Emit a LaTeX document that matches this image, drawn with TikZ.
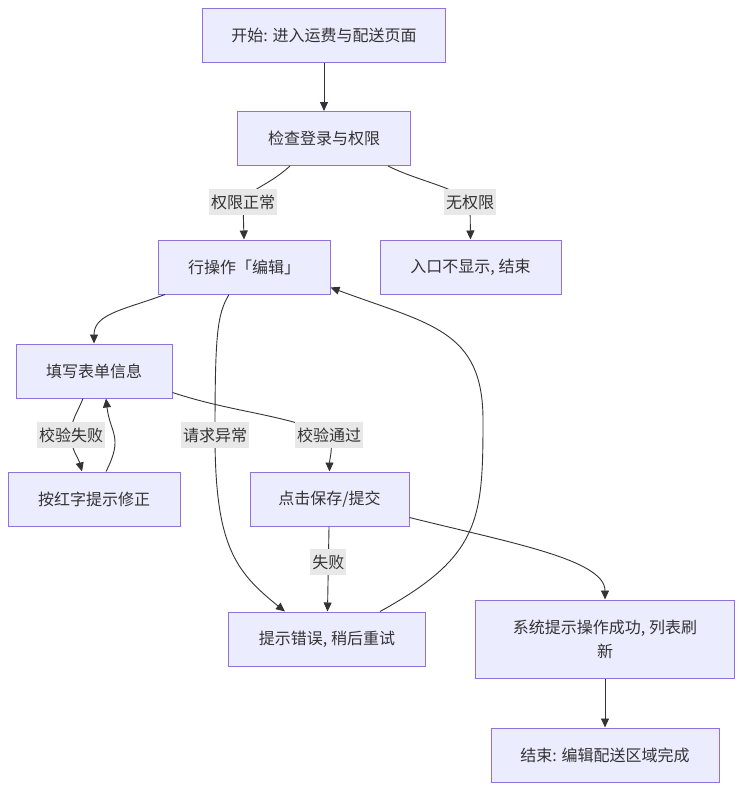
\documentclass[tikz,border=0pt]{standalone}
\usepackage{fontspec}
\setmainfont{Noto Sans CJK SC}
\usetikzlibrary{arrows.meta}
\definecolor{boxfill}{HTML}{ECECFF}
\definecolor{boxline}{HTML}{9370DB}
\definecolor{ink}{HTML}{333333}
\definecolor{lblfill}{HTML}{E8E8E8}
\begin{document}
\begin{tikzpicture}[x=1pt,y=-1pt,
	box/.style={draw=boxline,fill=boxfill,line width=1pt,minimum height=54pt,inner sep=2pt,align=center,text=ink,font=\fontsize{16}{24}\selectfont},
	lbl/.style={fill=lblfill,inner xsep=2pt,inner ysep=1pt,minimum height=26pt,text=ink,font=\fontsize{16}{20}\selectfont},
	flow/.style={draw=ink,line width=0.9pt,-{Triangle[length=9pt,width=8pt]}}]
	\useasboundingbox (0,0) rectangle (743,790);
	\node [box,minimum width=243pt] (start) at (324,35) {开始: 进入运费与配送页面};
	\node [box,minimum width=173pt] (check) at (324,138.5) {检查登录与权限};
	\node [box,minimum width=172pt] (edit) at (244,267) {行操作「编辑」};
	\node [box,minimum width=181pt] (noperm) at (470.5,267) {入口不显示, 结束};
	\node [box,minimum width=156pt] (form) at (94,371) {填写表单信息};
	\node [box,minimum width=172pt] (fix) at (94,499) {按红字提示修正};
	\node [box,minimum width=159pt] (save) at (329.5,499) {点击保存/提交};
	\node [box,minimum width=197pt] (error) at (327,639) {提示错误, 稍后重试};
	\node [box,minimum width=259pt,minimum height=78pt] (success) at (605,639) {系统提示操作成功, 列表刷\\新};
	\node [box,minimum width=228pt] (finish) at (605,755) {结束: 编辑配送区域完成};
	\coordinate (pok) at (243,202);
	\coordinate (pno) at (470,202);
	\coordinate (pexc) at (215,435);
	\coordinate (pfail) at (71,435);
	\coordinate (ppass) at (329,435);
	\coordinate (loop) at (483,420);
	\draw [flow] (start) -- (check);
	\draw [flow] ([xshift=-34pt]check.south) .. controls +(-22,20) and +(8,-14) .. (pok) node [lbl] {权限正常} -- (edit.north);
	\draw [flow] ([xshift=64pt]check.south) .. controls +(30,15) and +(-15,-15) .. (pno) node [lbl] {无权限} -- (noperm.north);
	\draw [flow] ([xshift=-79pt]edit.south) .. controls +(-40,15) and +(0,-30) .. (form.north);
	\draw [flow] ([xshift=-15pt]edit.south) .. controls +(-12,20) and +(0,-100) .. (pexc) node [lbl] {请求异常} .. controls +(0,110) and +(-50,-40) .. ([xshift=-42pt]error.north);
	\draw [flow] ([xshift=53pt]error.north) .. controls +(100,-55) and +(0,100) .. (loop) .. controls +(0,-90) and +(100,37) .. ([yshift=7pt]edit.south east);
	\draw [flow] ([xshift=-11pt]form.south) .. controls +(-6,15) and +(0,-15) .. (pfail) node [lbl] {校验失败} .. controls +(0,15) and +(-4,-15) .. ([xshift=-12pt]fix.north);
	\draw [flow] ([xshift=12pt]fix.north) .. controls +(18,-35) and +(4,35) .. ([xshift=12pt]form.south);
	\draw [flow] ([yshift=6pt]form.south east) .. controls +(60,20) and +(-40,-20) .. (ppass) node [lbl] {校验通过} .. controls +(5,10) and +(0,-12) .. (save.north);
	\draw [flow] (save) -- node [lbl,pos=0.42] {失败} (error);
	\draw [flow] ([yshift=9pt]save.south east) .. controls +(100,25) and +(0,-40) .. (success.north);
	\draw [flow] (success) -- (finish);
\end{tikzpicture}
\end{document}
